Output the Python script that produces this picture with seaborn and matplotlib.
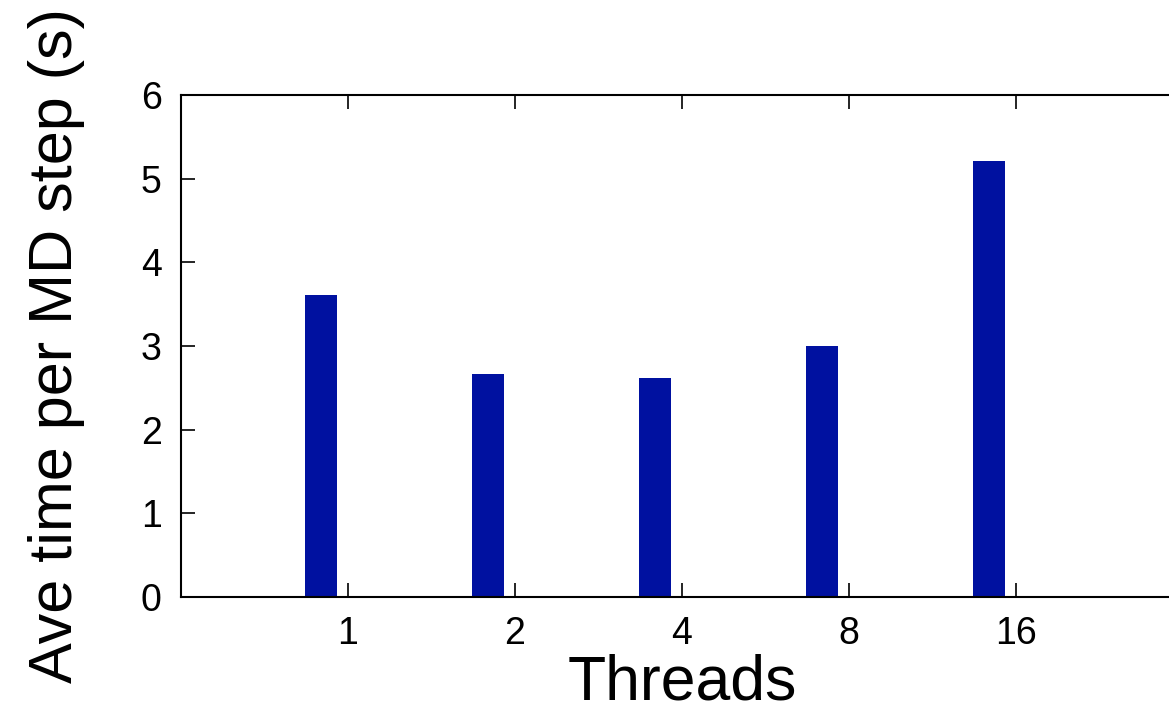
import matplotlib
matplotlib.use("Agg")
import matplotlib.pyplot as plt
import seaborn as sns
import pandas as pd

# Average wall time per MD step for each thread count
threads = ["1", "2", "4", "8", "16"]
ave_time = [3.61, 2.67, 2.62, 3.00, 5.21]
series_levels = ["time", "spare"]

df = pd.DataFrame({"Threads": threads, "time": ave_time, "series": "time"})

sns.set_theme(style="white")
plt.rcParams["font.family"] = ["Liberation Sans", "DejaVu Sans"]
plt.rcParams["text.color"] = "black"
plt.rcParams["axes.labelcolor"] = "black"

fig = plt.figure(figsize=(11.69, 7.15), dpi=100)
ax = fig.add_axes([0.1548, 0.165, 0.857, 0.702])

sns.barplot(data=df, x="Threads", y="time", hue="series", hue_order=series_levels,
            dodge=True, width=0.64, gap=0.41, palette=["#0011A0", "#0011A0"],
            saturation=1, edgecolor="none", errorbar=None, legend=False, ax=ax)

ax.set_xlim(-1, 5)
ax.set_ylim(0, 6)
ax.set_yticks(range(0, 7))
ax.set_xlabel("Threads", fontsize=45, labelpad=1, color="black")
ax.set_ylabel("Ave time per MD step (s)", fontsize=44, labelpad=40, color="black")

for side in ["left", "bottom", "top", "right"]:
    ax.spines[side].set_visible(True)
    ax.spines[side].set_color("black")
    ax.spines[side].set_linewidth(1.5)

ax.tick_params(axis="both", which="major", direction="in", length=10, width=1.2,
               labelsize=27, colors="black", pad=14)
ax.tick_params(axis="x", top=True, bottom=True)
ax.tick_params(axis="y", left=True, right=False)

fig.savefig("out.png", dpi=100)
